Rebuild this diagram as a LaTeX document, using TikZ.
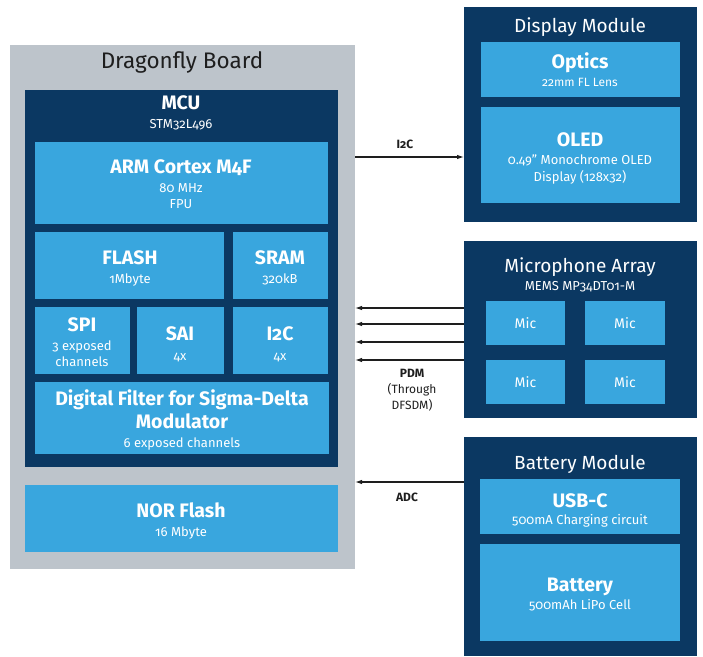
\documentclass[tikz,border=0pt]{standalone}
\usepackage{fontspec}
\setmainfont{Fira Sans}[Numbers=OldStyle]
\usetikzlibrary{arrows.meta}
\definecolor{boardgray}{HTML}{BDC4CB}
\definecolor{navy}{HTML}{0B3862}
\definecolor{cyanblk}{HTML}{39A6DE}
\definecolor{ink}{HTML}{1E1E1E}
% block placed by its corners: name, style, x1, y1, x2, y2
\newcommand\blk[6]{\node[#2, minimum width={(#5)-(#3)}, minimum height={(#6)-(#4)}] (#1) at ({((#3)+(#5))/2},{((#4)+(#6))/2}) {};}
\tikzset{
  blk/.style={rectangle, draw=none, inner sep=0pt, outer sep=0pt},
  boardbox/.style={blk, fill=boardgray},
  darkbox/.style={blk, fill=navy},
  lightbox/.style={blk, fill=cyanblk},
  % text is placed on its baseline, shifted so the given point is the middle of the capitals
  txt/.style={inner sep=0pt, anchor=base, text=white},
  head/.style={txt, yshift=-6.8pt, font=\fontsize{19.5}{23}\selectfont\bfseries},
  sub/.style={txt, yshift=-4.5pt, font=\fontsize{13}{15}\selectfont},
  small/.style={txt, yshift=-4.2pt, font=\fontsize{12}{14}\selectfont},
  modtitle/.style={txt, yshift=-6.6pt, font=\fontsize{19}{22}\selectfont},
  micname/.style={txt, yshift=-5pt, font=\fontsize{14}{16}\selectfont},
  link/.style={draw=ink, line width=1.1pt, -{Latex[length=7pt,width=4.5pt]}},
  linkhead/.style={txt, text=ink, yshift=-4.3pt, font=\fontsize{12}{14}\selectfont\bfseries},
  linknote/.style={txt, text=ink, yshift=-4.3pt, font=\fontsize{12}{14}\selectfont},
}
\begin{document}
\begin{tikzpicture}[x=1pt, y=-1pt]
\useasboundingbox (0,0) rectangle (703,656);

% ---- Dragonfly board ----
\blk{board}{boardbox}{10}{45}{355}{569}
\node[txt, text=ink, yshift=-7.8pt, font=\fontsize{22.5}{26}\selectfont] (boardt) at (182,61) {Dragonfly Board};
\blk{mcu}{darkbox}{25}{90}{338}{467}
\node[head] (mcut) at (181,103) {MCU};
\node[sub] (mcus) at (181,124) {STM32L496};

\blk{arm}{lightbox}{35}{142}{328}{224}
\node[head] (armt) at (181,167) {ARM Cortex M4F};
\node[sub] (arms1) at (181,188) {80 MHz};
\node[sub] (arms2) at (181,204) {FPU};

\blk{flash}{lightbox}{35}{232}{224}{299}
\node[head] (flasht) at (130,258) {FLASH};
\node[sub] (flashs) at (130,279) {1Mbyte};
\blk{sram}{lightbox}{233}{232}{328}{299}
\node[head] (sramt) at (280,258) {SRAM};
\node[sub] (srams) at (280,279) {320kB};

\blk{spi}{lightbox}{35}{307}{130}{374}
\node[head] (spit) at (82,325) {SPI};
\node[sub] (spis1) at (82,346) {3 exposed};
\node[sub] (spis2) at (82,362) {channels};
\blk{sai}{lightbox}{137}{307}{224}{374}
\node[head] (sait) at (180,334) {SAI};
\node[sub] (sais) at (180,356) {4x};
\blk{iic}{lightbox}{233}{307}{328}{374}
\node[head] (iict) at (280,334) {I2C};
\node[sub] (iics) at (280,356) {4x};

\blk{dfsdm}{lightbox}{35}{382}{329}{454}
\node[head] (dfsdmt1) at (182,399) {Digital Filter for Sigma-Delta};
\node[head] (dfsdmt2) at (182,422) {Modulator};
\node[sub] (dfsdms) at (182,443) {6 exposed channels};

\blk{nor}{lightbox}{25}{485}{338}{552}
\node[head] (nort) at (181,511) {NOR Flash};
\node[sub] (nors) at (181,532) {16 Mbyte};

% ---- Display module ----
\blk{display}{darkbox}{464}{7}{697}{222}
\node[modtitle] (displayt) at (580,26) {Display Module};
\blk{optics}{lightbox}{481}{42}{680}{97}
\node[head] (opticst) at (580,62) {Optics};
\node[small] (opticss) at (580,82) {22mm FL Lens};
\blk{oled}{lightbox}{481}{107}{680}{203}
\node[head] (oledt) at (580,140) {OLED};
\node[sub] (oleds1) at (580,160) {0.49” Monochrome OLED};
\node[sub] (oleds2) at (580,177) {Display (128x32)};

% ---- Microphone array ----
\blk{micarr}{darkbox}{464}{241}{697}{418}
\node[modtitle] (micarrt) at (580,266) {Microphone Array};
\node[sub] (micarrs) at (580,286) {MEMS MP34DT01-M};
\blk{mica}{lightbox}{486}{301}{565}{345}
\blk{micb}{lightbox}{585}{301}{665}{345}
\blk{micc}{lightbox}{486}{360}{565}{404}
\blk{micd}{lightbox}{585}{360}{665}{404}
\node[micname] (micat) at (mica) {Mic};
\node[micname] (micbt) at (micb) {Mic};
\node[micname] (micct) at (micc) {Mic};
\node[micname] (micdt) at (micd) {Mic};

% ---- Battery module ----
\blk{batmod}{darkbox}{464}{437}{697}{656}
\node[modtitle] (batmodt) at (580,463) {Battery Module};
\blk{usbc}{lightbox}{480}{479}{680}{534}
\node[head] (usbct) at (580,501) {USB-C};
\node[sub] (usbcs) at (580,520) {500mA Charging circuit};
\blk{cell}{lightbox}{480}{544}{680}{641}
\node[head] (cellt) at (580,585) {Battery};
\node[sub] (cells) at (580,605) {500mAh LiPo Cell};

% ---- Links ----
\draw[link] (board.east |- 0,157) -- (display.west |- 0,157);
\node[linkhead] (iiclink) at (405,144) {I2C};

\foreach \yy in {308,324,342,360}
  \draw[link] (micarr.west |- 0,\yy) -- (board.east |- 0,\yy);
\node[linkhead] (pdm) at (412,373) {PDM};
\node[linknote] (pdm2) at (412,389) {(Through};
\node[linknote] (pdm3) at (412,405) {DFSDM)};

\draw[link] (batmod.west |- 0,482) -- (board.east |- 0,482);
\node[linkhead] (adc) at (407,497) {ADC};
\end{tikzpicture}
\end{document}
